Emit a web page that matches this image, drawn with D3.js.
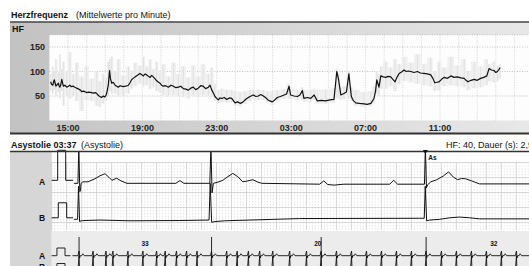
<!DOCTYPE html>
<html>
<head>
<meta charset="utf-8">
<script src="https://cdn.jsdelivr.net/npm/d3@7/dist/d3.min.js"></script>
<style>
    body { margin: 0; background: #fff; }
    svg { display: block; font-family: "Liberation Sans", Arial, sans-serif; }
</style>
</head>
<body>
<svg id="chart" width="529" height="266"></svg>
<script>
/*global d3*/

// Herzfrequenz: minutes after 14:00 and mean HF per minute
var hfMinutes = [4, 7, 11, 14, 16, 19, 21, 25, 29, 31, 34, 37, 40, 42, 45, 50, 56, 61, 66, 70,
    77, 82, 88, 95, 100, 104, 110, 120, 127, 136, 142, 148, 153, 155, 160, 163, 168, 174, 178, 181,
    183, 186, 188, 190, 194, 197, 201, 206, 212, 217, 222, 228, 238, 246, 255, 260, 265, 270, 276, 283,
    292, 297, 303, 309, 314, 320, 325, 330, 335, 341, 346, 352, 357, 362, 367, 375, 384, 392, 400, 408,
    416, 424, 432, 440, 448, 456, 464, 472, 480, 488, 496, 504, 513, 518, 524, 529, 534, 540, 545, 550,
    556, 564, 572, 580, 588, 594, 599, 607, 615, 623, 631, 639, 647, 658, 666, 674, 682, 690, 697, 703,
    711, 719, 727, 735, 745, 757, 765, 773, 778, 789, 800, 808, 816, 821, 832, 843, 854, 864, 877, 891,
    905, 918, 927, 933, 940, 950, 958, 966, 974, 981, 988, 1000, 1015, 1025, 1037, 1047, 1052, 1056, 1063, 1069,
    1077, 1085, 1093, 1101, 1108, 1115, 1121, 1128, 1136, 1144, 1151, 1158, 1166, 1176, 1187, 1197, 1208, 1219, 1230, 1237,
    1243, 1250, 1257, 1265, 1273, 1284, 1295, 1305, 1316, 1327, 1338, 1344, 1350, 1360, 1370, 1380, 1391, 1401, 1411, 1418,
    1426, 1434, 1440, 1445, 1450, 1454];
var hfMean = [79, 74, 72, 80, 83, 75, 70, 73, 76, 71, 68, 74, 84, 78, 70, 72, 68, 70, 72, 69,
    70, 68, 66, 64, 62, 59, 60, 57, 58, 57, 56, 57, 55, 53, 50, 49, 47, 50, 48, 50,
    52, 59, 66, 72, 102, 85, 76, 78, 72, 70, 68, 71, 69, 70, 72, 77, 83, 86, 89, 92,
    96, 94, 91, 95, 93, 90, 88, 92, 89, 85, 81, 78, 76, 72, 70, 71, 68, 72, 70, 67,
    68, 70, 65, 64, 62, 66, 68, 63, 66, 71, 70, 65, 68, 72, 62, 56, 49, 45, 42, 46,
    45, 47, 43, 46, 45, 40, 36, 38, 35, 37, 42, 46, 49, 52, 49, 50, 53, 50, 47, 43,
    40, 38, 42, 47, 49, 52, 54, 70, 52, 50, 49, 52, 61, 45, 47, 45, 52, 40, 41, 40,
    42, 43, 100, 83, 52, 55, 58, 95, 49, 40, 36, 35, 34, 33, 35, 45, 60, 83, 68, 91,
    89, 88, 90, 89, 84, 79, 88, 96, 99, 103, 100, 101, 100, 98, 100, 97, 96, 95, 93, 86,
    77, 78, 79, 84, 88, 86, 91, 88, 89, 87, 86, 82, 79, 82, 84, 82, 86, 88, 91, 106,
    103, 102, 98, 100, 104, 108];

// min / max per minute (grey envelope)
var envMinutes = [4, 11, 16, 21, 29, 34, 40, 45, 56, 66, 77, 88, 104, 120, 136, 153, 163, 174, 183, 190,
    195, 201, 212, 222, 238, 255, 265, 276, 292, 303, 314, 325, 335, 346, 357, 367, 384, 400, 416, 432,
    448, 464, 480, 496, 513, 524, 534, 545, 556, 572, 588, 599, 615, 631, 647, 658, 674, 690, 703, 719,
    735, 757, 773, 778, 800, 816, 821, 843, 854, 864, 891, 918, 927, 933, 940, 950, 966, 974, 988, 1015,
    1037, 1047, 1056, 1063, 1069, 1085, 1101, 1115, 1128, 1144, 1166, 1187, 1208, 1230, 1243, 1257, 1273, 1295, 1316, 1338,
    1350, 1370, 1391, 1411, 1418, 1434, 1445, 1454];
var envHigh = [95, 110, 100, 125, 98, 135, 105, 120, 100, 140, 95, 118, 90, 110, 85, 100, 80, 95, 88, 120,
    125, 130, 100, 125, 92, 110, 100, 118, 112, 130, 110, 125, 105, 120, 98, 115, 90, 118, 95, 110,
    88, 112, 90, 115, 95, 108, 75, 62, 65, 63, 62, 60, 58, 60, 62, 64, 63, 62, 60, 60,
    62, 64, 75, 64, 63, 68, 62, 63, 65, 62, 64, 66, 105, 95, 68, 70, 100, 68, 62, 58,
    60, 70, 100, 95, 110, 120, 108, 125, 115, 130, 118, 135, 115, 128, 100, 120, 108, 130, 112, 125,
    100, 120, 110, 125, 115, 120, 112, 115];
var envLow = [60, 55, 62, 50, 58, 45, 60, 30, 52, 45, 50, 40, 20, 42, 40, 30, 28, 35, 40, 50,
    60, 55, 55, 50, 52, 55, 65, 70, 75, 70, 72, 65, 68, 60, 58, 52, 50, 52, 50, 48,
    45, 50, 48, 52, 50, 48, 40, 35, 38, 36, 38, 30, 29, 34, 40, 44, 42, 42, 36, 32,
    40, 44, 45, 44, 42, 42, 38, 38, 42, 34, 34, 36, 45, 45, 42, 44, 45, 40, 30, 28,
    29, 35, 55, 50, 65, 65, 70, 60, 75, 80, 78, 75, 72, 70, 60, 62, 70, 72, 70, 68,
    62, 66, 68, 72, 80, 78, 80, 85];
var hfTicks = [50, 100, 150];
var hourTicks = [1, 5, 9, 13, 17, 21];
var hourLabels = ["15:00", "19:00", "23:00", "03:00", "07:00", "11:00"];

// Asystolie strip: [seconds, mV]
var calA = [[0, 0.1], [0.08, 0.1], [0.08, 1.1], [0.187, 1.1], [0.187, 0.1], [0.285, 0.1]];
var calB = [[0, 0.1], [0.088, 0.1], [0.088, 1.1], [0.2, 1.1], [0.2, 0.1], [0.285, 0.1]];
var leadA = [[0.297, 0], [0.35, 0], [0.362, 1.25], [0.375, -0.28], [0.385, -0.25], [0.392, 0], [0.417, 0.05],
    [0.484, 0.05], [0.577, 0.15], [0.644, 0.25], [0.711, 0.32], [0.764, 0.2], [0.804, 0.1], [0.867, 0.17],
    [0.924, 0.08], [1.004, 0], [1.657, 0], [1.711, 0.09], [1.764, 0], [2.11, 0], [2.125, 1.25], [2.14, -0.32],
    [2.157, 0], [2.22, 0.04], [2.284, 0.1], [2.35, 0.22], [2.417, 0.33], [2.484, 0.22], [2.55, 0.05],
    [2.617, 0.08], [2.684, 0.12], [2.75, 0.04], [2.804, 0], [3.577, -0.03], [3.631, 0.08], [3.684, -0.04],
    [3.77, -0.06], [3.9, -0.03], [4.511, -0.03], [4.564, 0.1], [4.617, -0.03], [4.975, -0.03], [4.987, 1.25],
    [5.001, -0.15], [5.017, -0.05], [5.06, 0.05], [5.14, 0.12], [5.23, 0.25], [5.297, 0.38], [5.364, 0.2],
    [5.417, 0.12], [5.47, 0.16], [5.524, 0.15], [5.604, 0.08], [5.71, -0.02], [6.37, -0.02]];
var leadB = [[0.297, 0], [0.345, 0], [0.358, 2.2], [0.372, -0.15], [0.397, -0.1], [0.444, -0.08], [0.644, -0.05],
    [1.045, -0.1], [1.71, -0.08], [2.1, -0.05], [2.115, 2.4], [2.135, -0.2], [2.177, -0.15], [2.31, -0.1],
    [2.644, -0.05], [3.31, 0.05], [4.91, 0.07], [4.972, 0.07], [4.985, 2.2], [5.004, -0.1], [5.044, -0.05],
    [5.177, 0], [5.31, 0.1], [5.444, 0.15], [5.577, 0.1], [5.71, 0.03], [6.37, 0.03]];
var asMarker = 4.987;

// overview strip below: beat times (s), event markers and counts
var stripCal = [[0, 0], [0.28, 0], [0.28, 1], [0.71, 1], [0.71, 0], [1.0, 0]];
var stripBeats = [1.46, 2.21, 2.9, 3.27, 4.07, 4.87, 5.6, 6.06, 6.66, 7.2, 7.76, 8.53, 9.34, 9.9, 10.5,
    11.1, 11.8, 12.7, 13.6, 14.38, 15.2, 16.0, 16.8, 17.6, 18.4, 19.2, 19.98, 20.8, 21.6, 22.4, 23.2, 24.0, 24.8];
var beatA = [[-0.06, 0], [0, 0.6], [0.03, -0.3], [0.06, 0], [0.14, 0], [0.2, 0.25], [0.28, 0]];
var beatB = [[-0.06, 0], [0, 2.0], [0.03, -0.2], [0.06, 0]];
var stripMarks = [1.46, 8.53, 14.38, 19.98];
var stripCounts = [{t: 4.98, n: "33"}, {t: 14.2, n: "20"}, {t: 23.59, n: "32"}];

(function () {
    "use strict";

    var svg = d3.select("#chart"),
        defs = svg.append("defs"),
        grad = defs.append("linearGradient").attr("id", "panelGrad"),
        hfX = d3.scaleLinear().domain([0, 1547]).range([49.4, 529]),
        hfY = d3.scaleLinear().domain([0, 175]).range([120.5, 34.75]),
        ecgX = d3.scaleLinear().domain([0, 6.37]).range([51.7, 529]),
        aY = d3.scaleLinear().domain([0, 1]).range([183.3, 153.3]),
        bY = d3.scaleLinear().domain([0, 1]).range([219.3, 204.3]),
        gridY = d3.scaleLinear().domain([0, 22.5]).range([162.5, 230]),
        stripX = d3.scaleLinear().domain([0, 25.47]).range([51.7, 529]),
        sAY = d3.scaleLinear().domain([0, 1]).range([255.7, 248]),
        sBY = d3.scaleLinear().domain([0, 1]).range([271.2, 263.5]),
        hfData = hfMinutes.map(function (m, i) {
            return {m: m, v: hfMean[i]};
        }),
        envData = envMinutes.map(function (m, i) {
            return {m: m, hi: envHigh[i], lo: envLow[i]};
        }),
        g;

    grad.append("stop").attr("offset", 0).attr("stop-color", "#c2c2c2");
    grad.append("stop").attr("offset", 1).attr("stop-color", "#e8e8e8");

    // ---- Herzfrequenz panel ----
    svg.append("rect").attr("x", 10).attr("y", 22).attr("width", 519).attr("height", 112)
        .attr("fill", "url(#panelGrad)");
    svg.append("rect").attr("x", hfX(0)).attr("y", hfY(175)).attr("width", 529 - hfX(0))
        .attr("height", hfY(0) - hfY(175)).attr("fill", "#fdfdfd");

    g = svg.append("g");
    g.selectAll("line.vg").data(d3.range(1, 26)).enter().append("line")
        .attr("x1", function (h) { return hfX(h * 60); })
        .attr("x2", function (h) { return hfX(h * 60); })
        .attr("y1", hfY(175)).attr("y2", hfY(0))
        .attr("stroke", "#b8b8b8").attr("stroke-width", 0.6).attr("stroke-dasharray", "1,1.5");
    g.selectAll("line.hg").data(hfTicks.concat([175])).enter().append("line")
        .attr("x1", hfX(0)).attr("x2", 529)
        .attr("y1", function (v) { return hfY(v); })
        .attr("y2", function (v) { return hfY(v); })
        .attr("stroke", "#9a9a9a").attr("stroke-width", 0.6).attr("stroke-dasharray", "1,1.5");

    svg.append("path").datum(envData)
        .attr("fill", "#f0f0f0")
        .attr("d", d3.area()
            .curve(d3.curveStep)
            .x(function (d) { return hfX(d.m); })
            .y0(function (d) { return hfY(d.lo); })
            .y1(function (d) { return hfY(d.hi); }));
    svg.append("g").selectAll("line").data(envData).enter().append("line")
        .attr("x1", function (d) { return hfX(d.m); })
        .attr("x2", function (d) { return hfX(d.m); })
        .attr("y1", function (d) { return hfY(d.lo); })
        .attr("y2", function (d) { return hfY(d.hi); })
        .attr("stroke", "#dadada").attr("stroke-width", 0.7);

    svg.append("path").datum(hfData)
        .attr("fill", "none").attr("stroke", "#111").attr("stroke-width", 1.2)
        .attr("stroke-linejoin", "round")
        .attr("d", d3.line()
            .x(function (d) { return hfX(d.m); })
            .y(function (d) { return hfY(d.v); }));

    svg.append("g").selectAll("text").data(hfTicks).enter().append("text")
        .attr("x", 45).attr("y", function (v) { return hfY(v) + 3; })
        .attr("text-anchor", "end").attr("font-size", 9).attr("font-weight", "bold")
        .attr("fill", "#222").text(function (v) { return v; });
    svg.append("g").selectAll("text").data(hourTicks).enter().append("text")
        .attr("x", function (h) { return hfX(h * 60); }).attr("y", 130.5)
        .attr("text-anchor", "middle").attr("font-size", 9).attr("font-weight", "bold")
        .attr("fill", "#222").text(function (h, i) { return hourLabels[i]; });

    svg.append("text").attr("x", 12).attr("y", 31.5).attr("font-size", 9)
        .attr("font-weight", "bold").attr("fill", "#111").text("HF");
    svg.append("line").attr("x1", 10).attr("x2", 529).attr("y1", 22).attr("y2", 22)
        .attr("stroke", "#444").attr("stroke-width", 1.4);
    svg.append("line").attr("x1", 10).attr("x2", 529).attr("y1", 133.5).attr("y2", 133.5)
        .attr("stroke", "#333").attr("stroke-width", 2);
    svg.append("text").attr("x", 11).attr("y", 18.3).attr("font-size", 9)
        .attr("font-weight", "bold").attr("fill", "#111").text("Herzfrequenz");
    svg.append("text").attr("x", 76).attr("y", 18.3).attr("font-size", 9)
        .attr("fill", "#111").text("(Mittelwerte pro Minute)");

    // ---- Asystolie panel ----
    svg.append("rect").attr("x", 10).attr("y", 152).attr("width", 41.7).attr("height", 114)
        .attr("fill", "#d6d6d6");
    svg.append("rect").attr("x", 51.7).attr("y", 231).attr("width", 478).attr("height", 35)
        .attr("fill", "#ececec");

    g = svg.append("g");
    g.selectAll("line.minor").data(d3.range(0, 160)).enter().append("line")
        .attr("x1", function (k) { return ecgX(k * 0.04); })
        .attr("x2", function (k) { return ecgX(k * 0.04); })
        .attr("y1", gridY(0)).attr("y2", gridY(22.5))
        .attr("stroke", "#bdbdbd").attr("stroke-width", 0.7).attr("stroke-dasharray", "0.8,2.2");
    g.selectAll("line.mv").data(d3.range(0, 32)).enter().append("line")
        .attr("x1", function (k) { return ecgX(k * 0.2); })
        .attr("x2", function (k) { return ecgX(k * 0.2); })
        .attr("y1", gridY(0)).attr("y2", gridY(22.5))
        .attr("stroke", "#cfcfcf").attr("stroke-width", 0.8);
    g.selectAll("line.mh").data(d3.range(0, 23, 5)).enter().append("line")
        .attr("x1", ecgX(0)).attr("x2", 529)
        .attr("y1", function (k) { return gridY(k); })
        .attr("y2", function (k) { return gridY(k); })
        .attr("stroke", "#cfcfcf").attr("stroke-width", 0.8);

    defs.append("clipPath").attr("id", "ecgClip").append("rect")
        .attr("x", 51.7).attr("y", 151.5).attr("width", 478).attr("height", 82);

    function trace(data, y, clip) {
        var p = svg.append("path").datum(data)
            .attr("fill", "none").attr("stroke", "#111").attr("stroke-width", 1)
            .attr("stroke-linejoin", "round")
            .attr("d", d3.line()
                .x(function (d) { return ecgX(d[0]); })
                .y(function (d) { return y(d[1]); }));
        if (clip) {
            p.attr("clip-path", "url(#ecgClip)");
        }
    }
    trace(calA, aY, false);
    trace(calB, bY, false);
    trace(leadA, aY, true);
    trace(leadB, bY, true);

    svg.append("line").attr("x1", 10).attr("x2", 529).attr("y1", 151.5).attr("y2", 151.5)
        .attr("stroke", "#333").attr("stroke-width", 1.4);
    svg.append("path")
        .attr("d", "M" + (ecgX(asMarker) - 2.5) + ",150 h5 l-2.5,4 z").attr("fill", "#111");
    svg.append("text").attr("x", ecgX(asMarker) + 3).attr("y", 159.5).attr("font-size", 6.5)
        .attr("font-weight", "bold").attr("fill", "#111").text("As");

    svg.append("text").attr("x", 11).attr("y", 147.5).attr("font-size", 9)
        .attr("font-weight", "bold").attr("fill", "#111").text("Asystolie 03:37");
    svg.append("text").attr("x", 81).attr("y", 147.5).attr("font-size", 9)
        .attr("fill", "#111").text("(Asystolie)");
    svg.append("text").attr("x", 446).attr("y", 147.5).attr("font-size", 9)
        .attr("fill", "#111").text("HF: 40, Dauer (s): 2,9");
    svg.append("text").attr("x", 39).attr("y", 184.5).attr("font-size", 8.5)
        .attr("font-weight", "bold").attr("fill", "#111").text("A");
    svg.append("text").attr("x", 39).attr("y", 221).attr("font-size", 8.5)
        .attr("font-weight", "bold").attr("fill", "#111").text("B");

    // ---- overview strip ----
    function beatPath(tpl, y) {
        var pts = [[stripX(stripCal[stripCal.length - 1][0]) + 2, y(0)]];
        stripBeats.forEach(function (t) {
            tpl.forEach(function (p) {
                pts.push([stripX(t + p[0]), y(p[1])]);
            });
        });
        pts.push([529, y(0)]);
        return pts;
    }
    function calPath(y) {
        return stripCal.map(function (p) { return [stripX(p[0]), y(p[1])]; });
    }
    [calPath(sAY), calPath(sBY), beatPath(beatA, sAY), beatPath(beatB, sBY)].forEach(function (pts) {
        svg.append("path").datum(pts)
            .attr("fill", "none").attr("stroke", "#111").attr("stroke-width", 0.9)
            .attr("d", d3.line());
    });
    svg.append("g").selectAll("line").data(stripMarks).enter().append("line")
        .attr("x1", function (t) { return stripX(t); })
        .attr("x2", function (t) { return stripX(t); })
        .attr("y1", 237).attr("y2", sAY(0))
        .attr("stroke", "#111").attr("stroke-width", 0.9);
    svg.append("g").selectAll("text").data(stripCounts).enter().append("text")
        .attr("x", function (d) { return stripX(d.t); }).attr("y", 245.7)
        .attr("text-anchor", "middle").attr("font-size", 6.5).attr("font-weight", "bold")
        .attr("fill", "#111").text(function (d) { return d.n; });
    svg.append("text").attr("x", 39).attr("y", 258.5).attr("font-size", 8.5)
        .attr("font-weight", "bold").attr("fill", "#111").text("A");
    svg.append("text").attr("x", 39).attr("y", 270).attr("font-size", 8.5)
        .attr("font-weight", "bold").attr("fill", "#111").text("B");
}());
</script>
</body>
</html>
